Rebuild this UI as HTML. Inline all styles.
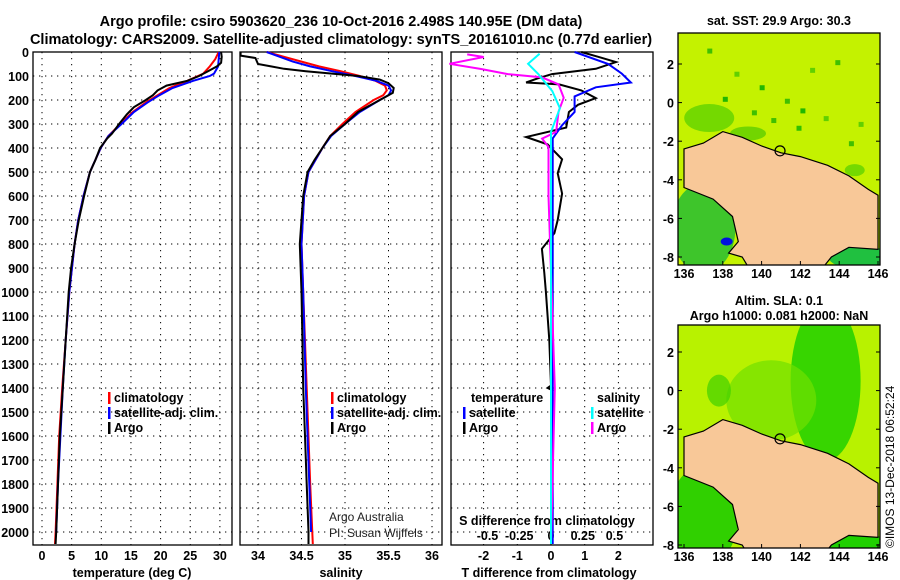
<!DOCTYPE html>
<html><head><meta charset="utf-8"><style>
body{margin:0;background:#fff;}
svg{display:block;font-family:"Liberation Sans",sans-serif;}
.b{font-weight:bold;font-size:12.5px;}
.n{font-weight:normal;font-size:12px;}
.t{font-weight:bold;font-size:14.5px;}
</style></head><body>
<svg id="s" width="900" height="580" viewBox="0 0 900 580">
<text class="t" x="341" y="26" text-anchor="middle">Argo profile: csiro 5903620_236 10-Oct-2016 2.498S 140.95E (DM data)</text>
<text class="t" x="341" y="44" text-anchor="middle">Climatology: CARS2009. Satellite-adjusted climatology: synTS_20161010.nc (0.77d earlier)</text>
<g id="g"></g>
</svg>
<script>
// ---- data ----
const depthTicks=[0,100,200,300,400,500,600,700,800,900,1000,1100,1200,1300,1400,1500,1600,1700,1800,1900,2000];
const tempTicks=[0,5,10,15,20,25,30];
const salTicks=[34,34.5,35,35.5,36];
const salTickLabels=["34","34.5","35","35.5","36"];
const tdTicks=[-2,-1,0,1,2];
const sdTicks=[-0.5,-0.25,0,0.25,0.5];
const sdTickLabels=["-0.5","-0.25","0","0.25","0.5"];

const tArgoD=[0,20,45,60,80,100,120,140,160,180,200,230,260,300,340,360,400,450,500,600,700,800,900,1000,1200,1400,1600,1800,2000,2050];
const tArgoV=[30.2,30.3,30.2,29.5,28,26.5,24.5,21,19.5,18.7,17.5,15.5,14.3,13.0,11.8,11.0,9.8,9.0,8.1,7.1,6.2,5.5,4.9,4.5,4.0,3.5,3.0,2.7,2.4,2.3];
const tClimD=[0,30,60,90,120,150,180,210,250,300,350,400,500,600,700,800,1000,1200,1400,1600,1800,2000,2050];
const tClimV=[29.8,29.2,28.3,27.2,24.5,21.5,19.5,17.5,15.3,13.2,11.2,9.9,8.1,7.0,6.1,5.5,4.6,4.0,3.4,2.9,2.6,2.3,2.2];
const tSatD=[0,30,60,90,100,120,150,180,210,250,300,350,400,500,600,700,800,1000,1200,1400,1600,1800,2000];
const tSatV=[29.9,29.8,29.7,29.0,28.3,25.5,22,19.8,17.8,15.5,13.4,11.2,9.9,8.1,7.0,6.1,5.5,4.6,4.0,3.5,3.1,2.7,2.4];

const sArgoD=[0,15,25,50,60,70,80,90,100,115,130,150,170,190,210,250,300,350,400,450,500,600,800,1000,1200,1400,1600,1800,2000,2050];
const sArgoV=[33.8,33.8,33.97,34.0,34.15,34.3,34.55,34.85,35.15,35.4,35.5,35.56,35.55,35.45,35.35,35.15,35.0,34.83,34.74,34.65,34.57,34.52,34.48,34.5,34.51,34.52,34.54,34.56,34.58,34.58];
const sClimD=[0,20,40,60,80,100,120,140,160,180,200,250,300,350,400,500,600,800,1000,1400,1800,2050];
const sClimV=[34.1,34.3,34.5,34.7,34.95,35.17,35.35,35.46,35.48,35.44,35.33,35.12,34.97,34.83,34.74,34.58,34.53,34.5,34.52,34.56,34.6,34.63];
const sSatD=[0,20,40,60,80,100,120,140,160,180,200,250,300,350,400,500,600,800,1000,1400,1800,2000];
const sSatV=[34.1,34.25,34.4,34.6,34.85,35.12,35.36,35.5,35.53,35.5,35.4,35.17,35.0,34.84,34.74,34.58,34.53,34.5,34.52,34.55,34.59,34.61];

const dtArgoD=[0,20,42,70,92,110,127,135,160,192,220,250,315,354,385,447,505,590,700,755,820,920,1000,1200,1390,1400,1410,1420,2050];
const dtArgoV=[0.9,1.4,1.93,1.33,0.03,-0.4,-0.74,0.24,0.9,1.33,0.8,0.53,0.45,-0.74,-0.1,0.33,0.2,0.33,0.2,0.1,-0.27,-0.2,-0.15,-0.05,0,-0.1,0.05,0,0];
const dtSatD=[0,50,90,127,147,185,250,305,360,500,1000,2050];
const dtSatV=[0.7,1.7,2.1,2.37,1.33,0.7,0.7,0.33,0.05,0.05,0.05,0.05];
const dsArgoD=[10,21,49,71,92,106,135,191,248,333,361,396,600,1400,2050];
const dsArgoV=[-0.66,-0.53,-0.8,-0.55,-0.34,-0.07,0.06,0.1,0.06,0.04,-0.07,-0.02,-0.02,0.03,0];
const dsSatD=[7,49,92,163,234,333,2050];
const dsSatV=[-0.09,-0.18,-0.1,0.01,0.07,0,0];

const mapLonTicks=[136,138,140,142,144,146];
const mapLatTicks=[2,0,-2,-4,-6,-8];
const land=[[136,-2.4],[137,-2.1],[138,-1.5],[139,-1.8],[140,-2.25],[141,-2.6],[142,-2.8],[143.4,-3.25],[144.5,-3.8],[145.5,-4.5],[146,-4.8],[146,-7.6],[144.5,-7.5],[143.6,-8.0],[143.2,-8.5],[139.3,-8.5],[139,-8.0],[138.3,-7.8],[138.8,-7.2],[138.5,-5.9],[137.5,-5.0],[136,-4.4]];
const argoPos=[140.95,-2.5];

// ---- drawing ----
const NS="http://www.w3.org/2000/svg";
const G=document.getElementById('g');
function mk(tag,at,parent){const e=document.createElementNS(NS,tag);for(const k in at)e.setAttribute(k,at[k]);(parent||G).appendChild(e);return e;}
const yD=d=>52+d*0.24;
const PT=52,PB=545;
const xT=v=>42+v*5.93, xS=v=>258+(v-34)*87, xDT=v=>551+v*33.7, xDS=v=>551+v*127;

function panel(x0,x1,name){
  const r=mk('rect',{x:x0,y:PT,width:x1-x0,height:PB-PT,fill:'none',stroke:'#000','stroke-width':1.3});
  
  
  depthTicks.forEach(d=>{
    const l=mk('line',{x1:x0,x2:x1,y1:yD(d),y2:yD(d),stroke:'#000','stroke-dasharray':'1.3 4.7','stroke-width':1});
    
    
  });
}
function vgrid(xs,fx,name){xs.forEach(v=>{const l=mk('line',{x1:fx(v),x2:fx(v),y1:PT,y2:PB,stroke:'#000','stroke-dasharray':'1.3 4.7','stroke-width':1});
  
  });}
function line(D,V,fx,col,name,w){
  const p=mk('polyline',{points:D.map((d,i)=>fx(V[i]).toFixed(1)+','+yD(d).toFixed(1)).join(' '),fill:'none',stroke:col,'stroke-width':w||2});
  
  
}
function txt(x,y,s,name,anchor,cls,extra){
  const t=mk('text',Object.assign({x:x,y:y,'text-anchor':anchor||'start',class:cls||'b'},extra||{}));t.textContent=s;
  
  return t;}

panel(33,232,'temperature-panel');panel(240,442,'salinity-panel');panel(451,653,'difference-panel');
vgrid(tempTicks,xT,'temperature-gridline');vgrid(salTicks,xS,'salinity-gridline');vgrid(tdTicks,xDT,'tdiff-gridline');
depthTicks.forEach(d=>txt(29,yD(d)+5,String(d),'depth-tick-label','end'));
tempTicks.forEach(v=>txt(xT(v),560,String(v),'temperature-tick-label','middle'));
salTicks.forEach((v,i)=>txt(xS(v),560,salTickLabels[i],'salinity-tick-label','middle'));
tdTicks.forEach(v=>txt(xDT(v),560,String(v),'tdiff-tick-label','middle'));
sdTicks.forEach((v,i)=>txt(xDS(v),540,sdTickLabels[i],'sdiff-tick-label','middle'));
txt(132,577,'temperature (deg C)','x-axis-title-temperature','middle');
txt(341,577,'salinity','x-axis-title-salinity','middle');
txt(549,577,'T difference from climatology','x-axis-title-tdiff','middle');
txt(547,525,'S difference from climatology','s-diff-axis-title','middle');

line(tClimD,tClimV,xT,'#f00','temp-climatology-line');
line(tSatD,tSatV,xT,'#00f','temp-satellite-line');
line(tArgoD,tArgoV,xT,'#000','temp-argo-line');
line(sClimD,sClimV,xS,'#f00','sal-climatology-line');
line(sSatD,sSatV,xS,'#00f','sal-satellite-line');
line(sArgoD,sArgoV,xS,'#000','sal-argo-line');
line(dtArgoD,dtArgoV,xDT,'#000','tdiff-argo-line');
line(dtSatD,dtSatV,xDT,'#00f','tdiff-satellite-line');
line(dsArgoD,dsArgoV,xDS,'#f0f','sdiff-argo-line');
line(dsSatD,dsSatV,xDS,'#0ff','sdiff-satellite-line');

function leg(x,y,col,s,name){const r=mk('rect',{x:x,y:y-10,width:2.5,height:12,fill:col});
  
  
  txt(x+6,y,s,name);}
leg(108,402,'#f00','climatology','legend-temp-climatology');
leg(108,417,'#00f','satellite-adj. clim.','legend-temp-satellite');
leg(108,432,'#000','Argo','legend-temp-argo');
leg(331,402,'#f00','climatology','legend-sal-climatology');
leg(331,417,'#00f','satellite-adj. clim.','legend-sal-satellite');
leg(331,432,'#000','Argo','legend-sal-argo');
txt(471,402,'temperature','legend-diff-temperature-header');
txt(597,402,'salinity','legend-diff-salinity-header');
leg(463,417,'#00f','satellite','legend-tdiff-satellite');
leg(463,432,'#000','Argo','legend-tdiff-argo');
leg(591,417,'#0ff','satellite','legend-sdiff-satellite');
leg(591,432,'#f0f','Argo','legend-sdiff-argo');
txt(329,521,'Argo Australia','credit-argo-australia','start','n',{fill:'#222'});
txt(329,537,'PI: Susan Wijffels','credit-pi','start','n',{fill:'#222'});

// maps
function map(y0,y1,latRef,name,base,blobs,specks){
  const X0=678,X1=880;
  const mx=l=>684+(l-136)*19.4, my=a=>latRef+(2-a)*19.3;
  const g=mk('g',{});
  
  
  const cid='c'+y0;
  const cp=mk('clipPath',{id:cid},g);mk('rect',{x:X0,y:y0,width:X1-X0,height:y1-y0},cp);
  const inner=mk('g',{'clip-path':'url(#'+cid+')'},g);
  mk('rect',{x:X0,y:y0,width:X1-X0,height:y1-y0,fill:base},inner);
  blobs.forEach(b=>mk('ellipse',{cx:mx(b[0]),cy:my(b[1]),rx:b[2],ry:b[3],fill:b[4],opacity:b[5]||1},inner));
  (specks||[]).forEach(s=>mk('rect',{x:mx(s[0]),y:my(s[1]),width:5,height:5,fill:s[2]},inner));
  const lp=mk('polygon',{points:land.map(p=>mx(p[0]).toFixed(1)+','+my(p[1]).toFixed(1)).join(' '),fill:'#f8c898',stroke:'#000','stroke-width':1.2},inner);
  
  
  const c=mk('circle',{cx:mx(argoPos[0]),cy:my(argoPos[1]),r:5,fill:'none',stroke:'#000','stroke-width':1.2},inner);
  
  
  mk('rect',{x:X0,y:y0,width:X1-X0,height:y1-y0,fill:'none',stroke:'#000','stroke-width':1.3},g);
  mapLonTicks.forEach(l=>{mk('line',{x1:mx(l),x2:mx(l),y1:y1,y2:y1-4,stroke:'#000'},g);txt(mx(l),y1+13,String(l),'map-lon-tick-label','middle');});
  mapLatTicks.forEach(a=>{mk('line',{x1:X0,x2:X0+4,y1:my(a),y2:my(a),stroke:'#000'},g);mk('line',{x1:X1,x2:X1-4,y1:my(a),y2:my(a),stroke:'#000'},g);txt(674,my(a)+5,String(a),'map-lat-tick-label','end');});
}
map(33,265,64,'sst-map','#c4f200',
 [[137.3,-0.8,25,14,'#40c800',0.6],[139.3,-1.6,18,7,'#20b800',0.5],[137,-6.5,32,45,'#30c030',0.9],[138.2,-7.2,6,4,'#0010e0'],[145,-8,30,12,'#20c040'],[144.8,-3.5,10,6,'#40c800',0.6]],
 [[137.2,2.8,'#40c000'],[138.6,1.6,'#60d000'],[139.9,0.9,'#20b800'],[141.2,0.2,'#40c000'],[142,-0.3,'#20b800'],[143.2,-0.7,'#60d000'],[140.5,-0.8,'#40c000'],[141.8,-1.2,'#30c000'],[144.5,-2,'#40c000'],[145,-1,'#60d000'],[143.8,2.2,'#40c000'],[142.5,1.8,'#60d000'],[138,0.3,'#20b800'],[139.5,-0.4,'#40c000']]);
map(325,548,352,'sla-map','#b8f200',[[143.3,0.5,35,80,'#20d000',0.85],[140.5,-0.5,45,40,'#70e000',0.7],[137.8,0,12,16,'#40d000',0.7],[137,-6.5,35,50,'#30d000'],[145,-8,30,12,'#20d000']]);
txt(779,25,'sat. SST: 29.9 Argo: 30.3','sst-map-title','middle');
txt(779,305,'Altim. SLA: 0.1','sla-map-title','middle');
txt(779,320,'Argo h1000: 0.081 h2000: NaN','argo-height-title','middle');
txt(894,548,'©IMOS 13-Dec-2018 06:52:24','imos-timestamp','start','n',{transform:'rotate(-90 894 548)'});
</script>
</body></html>
